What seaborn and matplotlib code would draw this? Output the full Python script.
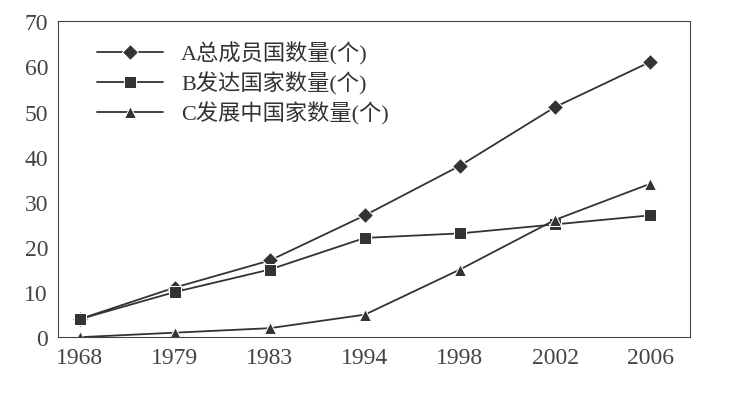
import pandas as pd
import matplotlib.pyplot as plt
import seaborn as sns

years = ['1968', '1979', '1983', '1994', '1998', '2002', '2006']
total_members = [4, 11, 17, 27, 38, 51, 61]
developed = [4, 10, 15, 22, 23, 25, 27]
developing = [0, 1, 2, 5, 15, 26, 34]
series_names = ['A总成员国数量(个)', 'B发达国家数量(个)', 'C发展中国家数量(个)']

sns.set_style('white')
plt.rcParams['font.family'] = ['Liberation Serif', 'Noto Sans CJK SC', 'DejaVu Sans']

rows = []
for name, vals in zip(series_names, [total_members, developed, developing]):
    for i, v in enumerate(vals):
        rows.append({'x': i, 'value': v, 'series': name})
df = pd.DataFrame(rows)

fig = plt.figure(figsize=(7.31, 4.06), dpi=100)
ax = fig.add_axes([0.079, 0.167, 0.865, 0.778])

sns.lineplot(data=df, x='x', y='value', hue='series', style='series',
             palette=['#333333'] * 3, markers=['D', 's', '^'], dashes=False,
             markersize=8, linewidth=1.3, ax=ax)

ax.set_xlim(-0.23, 6.42)
ax.set_ylim(0, 70)
ax.set_xticks(range(len(years)))
ax.set_xticklabels(years)
ax.set_yticks(range(0, 71, 10))
ax.tick_params(labelsize=17, colors='#444444')
ax.set_xlabel('')
ax.set_ylabel('')
for s in ax.spines.values():
    s.set_color('#444444')

leg = ax.legend(loc='upper left', frameon=False, fontsize=16,
                handlelength=3, labelspacing=0.3, bbox_to_anchor=(0.03, 1.0))
for t in leg.get_texts():
    t.set_color('#333333')

fig.savefig('out.png', dpi=100)
